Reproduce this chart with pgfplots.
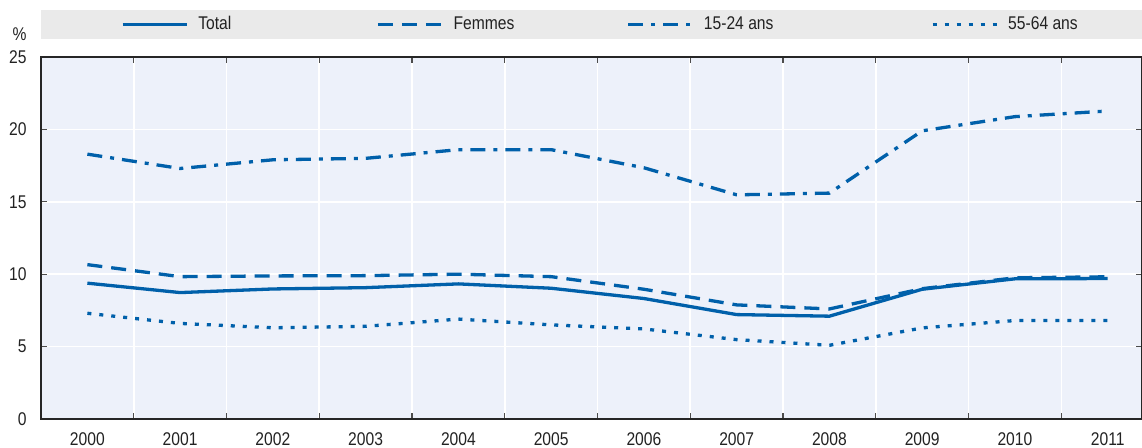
\documentclass[border=0pt]{standalone}
\usepackage{fontspec}
\setmainfont{Liberation Sans}[FakeStretch=0.85]
\usepackage{pgfplots}
\pgfplotsset{compat=1.18}
\definecolor{oecdblue}{RGB}{0,96,170}
\definecolor{plotbg}{RGB}{237,241,250}
\definecolor{leggray}{RGB}{234,234,234}
\definecolor{txt}{RGB}{34,34,34}
\begin{document}
\begin{tikzpicture}[font=\fontsize{9.2pt}{11pt}\selectfont, text=txt]
\fill[leggray] (0pt,190pt) rectangle (550.5pt,204.5pt);
\begin{axis}[
  at={(0pt,0pt)}, anchor=south west,
  scale only axis, width=550.5pt, height=181pt,
  xmin=-0.5, xmax=11.37, ymin=0, ymax=25,
  axis background/.style={fill=plotbg},
  xtick={0,...,11},
  xticklabels={2000,2001,2002,2003,2004,2005,2006,2007,2008,2009,2010,2011},
  minor xtick={0.5,1.5,...,10.5},
  ytick={0,5,...,25},
  /pgf/number format/assume math mode=true,
  tick align=inside,
  major tick length=3pt, minor tick length=3pt,
  major x tick style={draw=none},
  minor x tick style={black!70, line width=0.6pt},
  major y tick style={black!70, line width=0.6pt},
  xminorgrids=true, ymajorgrids=true,
  grid style={white, line width=0.8pt},
  axis line style={black!85, line width=0.7pt},
  xticklabel style={anchor=north, inner sep=0pt, yshift=-6.6pt},
  yticklabel style={anchor=east, inner sep=0pt, xshift=-7pt},
  legend style={at={(0.0727,1.0898)}, anchor=west, draw=none, fill=none,
    inner sep=0pt, outer sep=0pt, nodes={inner sep=0pt, outer sep=0pt},
    legend columns=4},
  legend image code/.code={\draw[#1] (0pt,0pt) -- (32pt,0pt); \path (37pt,0pt);},
  legend cell align=left,
]
\addplot[oecdblue, line width=1.65pt, solid] coordinates {
(0,9.38) (1,8.73) (2,8.98) (3,9.07) (4,9.33) (5,9.03) (6,8.32) (7,7.21) (8,7.1) (9,8.96) (10,9.68) (11,9.7)};
\addlegendentry{\makebox[89pt][l]{Total}}
\addplot[oecdblue, line width=1.65pt, dash pattern=on 7.5pt off 4.5pt] coordinates {
(0,10.66) (1,9.83) (2,9.88) (3,9.9) (4,10.0) (5,9.83) (6,8.96) (7,7.88) (8,7.6) (9,9.0) (10,9.75) (11,9.82)};
\addlegendentry{\makebox[86.5pt][l]{Femmes}}
\addplot[oecdblue, line width=1.65pt, dash pattern=on 7.5pt off 4pt on 2pt off 4pt] coordinates {
(0,18.29) (1,17.3) (2,17.9) (3,18.0) (4,18.6) (5,18.6) (6,17.35) (7,15.48) (8,15.6) (9,19.9) (10,20.88) (11,21.27)};
\addlegendentry{\makebox[113.5pt][l]{15-24 ans}}
\addplot[oecdblue, line width=1.65pt, dash pattern=on 2pt off 4pt] coordinates {
(0,7.3) (1,6.6) (2,6.3) (3,6.4) (4,6.9) (5,6.5) (6,6.22) (7,5.48) (8,5.09) (9,6.29) (10,6.8) (11,6.8)};
\addlegendentry{\makebox[40pt][l]{55-64 ans}}
\end{axis}
\node at (-10.75pt,192.5pt) {\%};
\pgfresetboundingbox
\path[use as bounding box] (-20.5pt,-14.5pt) rectangle (550.5pt,209.5pt);
\end{tikzpicture}
\end{document}
